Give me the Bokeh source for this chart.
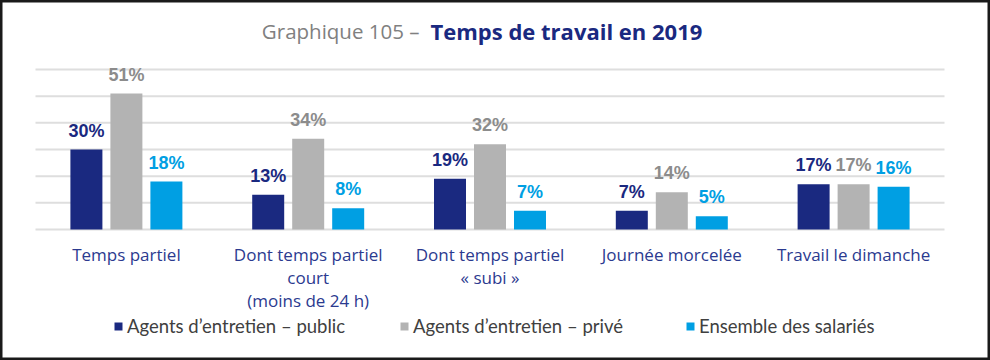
from bokeh.plotting import figure
from bokeh.models import Range1d, Legend, LegendItem, Label, ColumnDataSource
from bokeh.transform import dodge
from bokeh.embed import file_html
from bokeh.resources import INLINE
from bokeh.core.properties import value

categories = [
    "Temps partiel",
    "Dont temps partiel\ncourt\n(moins de 24 h)",
    "Dont temps partiel\n« subi »",
    "Journée morcelée",
    "Travail le dimanche",
]
public = [30, 13, 19, 7, 17]
prive = [51, 34, 32, 14, 17]
ensemble = [18, 8, 7, 5, 16]
series_names = ["Agents d’entretien – public", "Agents d’entretien – privé", "Ensemble des salariés"]
grid_ticks = [0, 10, 20, 30, 40, 50, 60]
title_part1 = "Graphique 105 –"
title_part2 = "Temps de travail en 2019"

bar_colors = ["#1a2980", "#b3b3b3", "#009fe3"]
label_colors = ["#1a2980", "#8c8c8c", "#009fe3"]
offsets = [-0.22, 0.0, 0.22]

# layout constants (pixels)
W, H = 990, 360
PY = 160 / 60.0          # px per percentage point
BASE = 229               # baseline y
PX = 909 / 5.0           # px per category
LEFT, RIGHT = 35, 46     # plot margins inside the frame

n = len(categories)
idx = list(range(n))

p = figure(
    x_range=Range1d(-0.5 - LEFT / PX, n - 0.5 + RIGHT / PX),
    y_range=Range1d(-(H - BASE) / PY, BASE / PY),
    width=W, height=H,
    output_backend="svg", toolbar_location=None,
    min_border_left=0, min_border_right=0, min_border_top=0, min_border_bottom=0,
)
p.outline_line_color = "#1a1a1a"
p.outline_line_width = 4
p.xaxis.visible = False
p.yaxis.visible = False
p.xgrid.grid_line_color = None
p.ygrid.grid_line_color = None

# horizontal grid lines at the tick values, spanning the categories
grid_src = ColumnDataSource(dict(g=grid_ticks))
p.segment(x0=-0.5, x1=n - 0.5, y0="g", y1="g", source=grid_src,
          line_color="#dedede", line_width=2)

renderers = []
for vals, off, bc, lc in zip([public, prive, ensemble], offsets, bar_colors, label_colors):
    src = ColumnDataSource(dict(xi=idx, val=vals, lbl=[f"{v}%" for v in vals]))
    r = p.vbar(x=dodge("xi", off), top="val", width=0.176, source=src,
               fill_color=bc, line_color=None)
    renderers.append(r)
    p.text(x=dodge("xi", off), y="val", text="lbl", source=src,
           text_align="center", text_baseline="middle", y_offset=-19,
           text_font=value("Liberation Sans"), text_font_style="bold",
           text_font_size="18px", text_color=lc)

cat_src = ColumnDataSource(dict(xi=idx, cat=categories, y=[0] * n))
p.text(x="xi", y="y", text="cat", source=cat_src, text_align="center", text_baseline="top",
       y_offset=13, text_font=value("Open Sans"), text_font_size="17px",
       text_line_height=1.0, text_color="#2b3a8f")

legend = Legend(
    items=[LegendItem(label=nm, renderers=[r]) for nm, r in zip(series_names, renderers)],
    orientation="horizontal",
    location=(113, 23),
    glyph_width=10, glyph_height=10, label_standoff=4, label_width=220, label_height=20,
    spacing=52,
    label_text_font="Lato", label_text_font_size="18.5px", label_text_color="#404040",
    padding=0, margin=0, border_line_color=None, background_fill_alpha=0,
)
p.add_layout(legend, "center")

p.add_layout(Label(x=419, y=330, x_units="screen", y_units="screen", text=title_part1,
                   text_align="right", text_baseline="middle", text_font="Open Sans",
                   text_font_size="20.5px", text_color="#808080"))
p.add_layout(Label(x=430, y=330, x_units="screen", y_units="screen", text=title_part2,
                   text_align="left", text_baseline="middle", text_font="Open Sans",
                   text_font_style="bold", text_font_size="22px", text_color="#1a2980"))

open("out.html", "w").write(file_html(p, INLINE))
